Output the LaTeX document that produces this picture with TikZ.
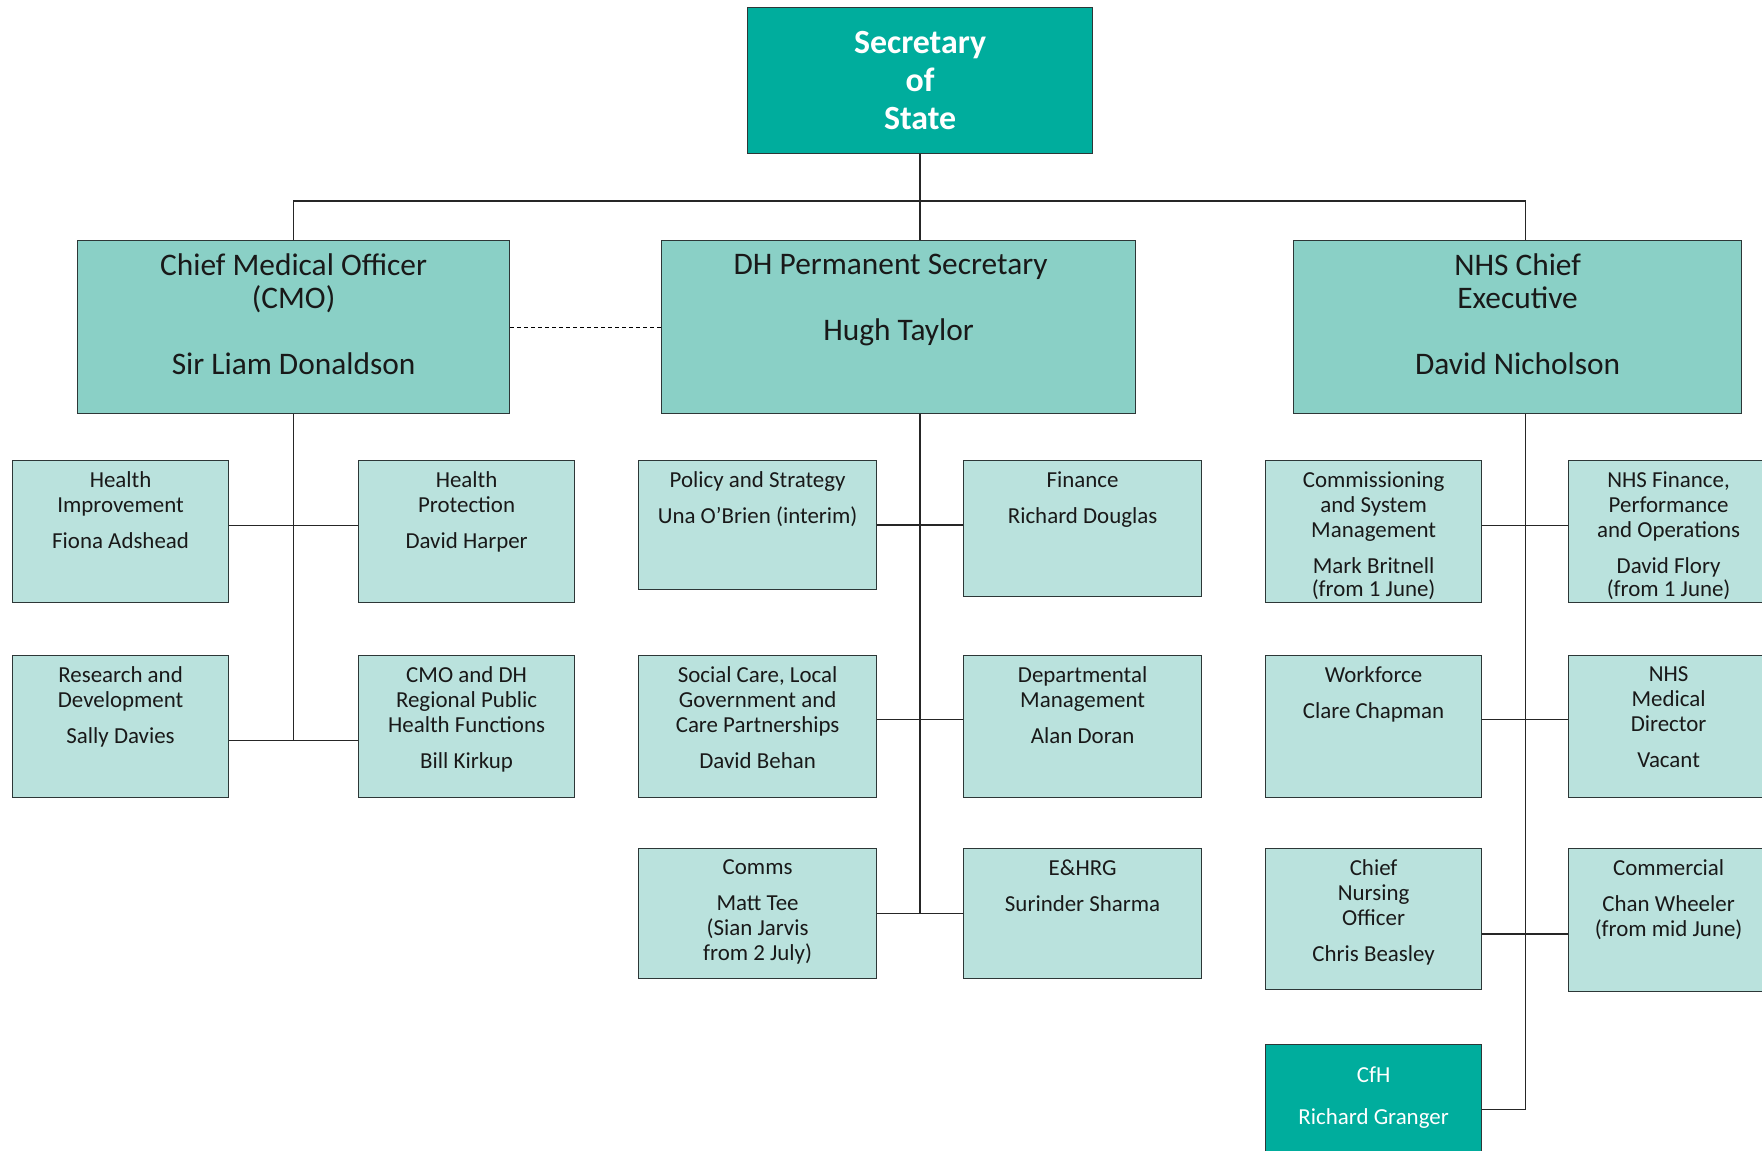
\documentclass[tikz,border=0pt]{standalone}
\usepackage{fontspec}
\setmainfont{Carlito}
\definecolor{sosgreen}{RGB}{0,173,157}
\definecolor{headgreen}{RGB}{138,208,198}
\definecolor{unitgreen}{RGB}{186,226,221}
\definecolor{edgegray}{RGB}{45,55,55}
\newcommand{\boxtext}[3]{\parbox[t][\dimexpr#2bp-22bp\relax][t]{#1bp}{\centering #3}}
\tikzset{
  orgbox/.style={draw=edgegray, line width=1.2bp, anchor=north west, inner xsep=0pt, inner ysep=11bp, text=black!90},
  headbox/.style={orgbox, fill=headgreen, inner ysep=13.5bp, font=\fontsize{31.5}{33}\selectfont},
  unitbox/.style={orgbox, fill=unitgreen, font=\fontsize{23}{25}\selectfont},
  link/.style={line width=1.6bp, black!85}
}
\begin{document}
\begin{tikzpicture}[x=1bp, y=-1bp]
\useasboundingbox (0,0) rectangle (1762,1150);

\node[draw=edgegray, line width=1.2bp, fill=sosgreen, text=white, anchor=north west, minimum width=345bp, minimum height=146bp, align=center, font=\bfseries\fontsize{34}{38}\selectfont] (sos) at (747,7) {Secretary\\of\\State};

\node[headbox] (cmo) at (77,240) {\boxtext{432}{168}{Chief Medical Officer\\(CMO)\\[33bp]Sir Liam Donaldson}};
\node[headbox] (dh) at (661,240) {\boxtext{474}{168}{\rightskip=16bp plus 1fil DH Permanent Secretary\\[33bp]\rightskip=0pt plus 1fil Hugh Taylor}};
\node[headbox] (nhs) at (1293,240) {\boxtext{448}{168}{NHS Chief\\Executive\\[33bp]David Nicholson}};

\node[unitbox] (hi) at (12,460) {\boxtext{216}{142}{Health\\Improvement\\[11bp]Fiona Adshead}};
\node[unitbox] (hp) at (358,460) {\boxtext{216}{142}{Health\\Protection\\[11bp]David Harper}};
\node[unitbox] (rd) at (12,655) {\boxtext{216}{142}{Research and\\Development\\[11bp]Sally Davies}};
\node[unitbox] (rph) at (358,655) {\boxtext{216}{142}{CMO and DH\\Regional Public\\Health Functions\\[11bp]Bill Kirkup}};

\node[unitbox] (ps) at (638,460) {\boxtext{238}{129}{Policy and Strategy\\[11bp]Una O’Brien (interim)}};
\node[unitbox] (fin) at (963,460) {\boxtext{238}{136}{Finance\\[11bp]Richard Douglas}};
\node[unitbox] (sc) at (638,655) {\boxtext{238}{142}{Social Care, Local\\Government and\\Care Partnerships\\[11bp]David Behan}};
\node[unitbox] (dm) at (963,655) {\boxtext{238}{142}{Departmental\\Management\\[11bp]Alan Doran}};
\node[unitbox] (com) at (638,848) {\boxtext{238}{130}{Comms\\[11bp]Matt Tee\\(Sian Jarvis\\from 2 July)}};
\node[unitbox] (ehr) at (963,848) {\boxtext{238}{130}{E\&HRG\\[11bp]Surinder Sharma}};

\node[unitbox] (csm) at (1265,460) {\boxtext{216}{142}{Commissioning\\and System\\Management\\[11bp]Mark Britnell\\[-2bp](from 1 June)}};
\node[unitbox] (nfpo) at (1568,460) {\boxtext{216}{142}{\rightskip=16bp plus 1fil NHS Finance,\\Performance\\and Operations\\[11bp]David Flory\\[-2bp](from 1 June)}};
\node[unitbox] (wf) at (1265,655) {\boxtext{216}{142}{Workforce\\[11bp]Clare Chapman}};
\node[unitbox] (nmd) at (1568,655) {\boxtext{216}{142}{\rightskip=16bp plus 1fil NHS\\Medical\\Director\\[11bp]Vacant}};
\node[unitbox] (cno) at (1265,848) {\boxtext{216}{141}{Chief\\Nursing\\Officer\\[11bp]Chris Beasley}};
\node[unitbox] (coml) at (1568,848) {\boxtext{216}{143}{\rightskip=16bp plus 1fil Commercial\\[11bp]Chan Wheeler\\(from mid June)}};
\node[unitbox, fill=sosgreen, text=white, inner ysep=22bp] (cfh) at (1265,1044) {\boxtext{216}{108}{CfH\\[17bp]Richard Granger}};

\coordinate (bus) at (sos.south |- 0,201);
\coordinate (dh-trunk) at (sos.south |- dh.south);
\coordinate (nhs-trunk) at ([xshift=8bp]nhs.south);

\draw[link] (sos) -- (sos.south |- dh.north);
\draw[link] (cmo) |- (bus) -| ([xshift=8bp]nhs.north);
\draw[dashed, line width=1bp, dash pattern=on 4bp off 3bp] (cmo) -- (dh);

\draw[link] (cmo) -- (cmo.south |- 0,740);
\draw[link] ([yshift=6bp]hi.east) -- ([yshift=6bp]hp.west);
\draw[link] ([yshift=-14bp]rd.east) -- ([yshift=-14bp]rph.west);

\draw[link] (dh-trunk) -- (dh-trunk |- com.east);
\draw[link] (ps.east) -- (ps.east -| fin.west);
\draw[link] ([yshift=7bp]sc.east) -- ([yshift=7bp]dm.west);
\draw[link] (com.east) -- (ehr.west);

\draw[link] (nhs-trunk) |- (cfh.east);
\draw[link] ([yshift=6bp]csm.east) -- ([yshift=6bp]nfpo.west);
\draw[link] ([yshift=7bp]wf.east) -- ([yshift=7bp]nmd.west);
\draw[link] ([yshift=-15bp]cno.east) -- ([yshift=-15bp]cno.east -| coml.west);
\end{tikzpicture}
\end{document}
